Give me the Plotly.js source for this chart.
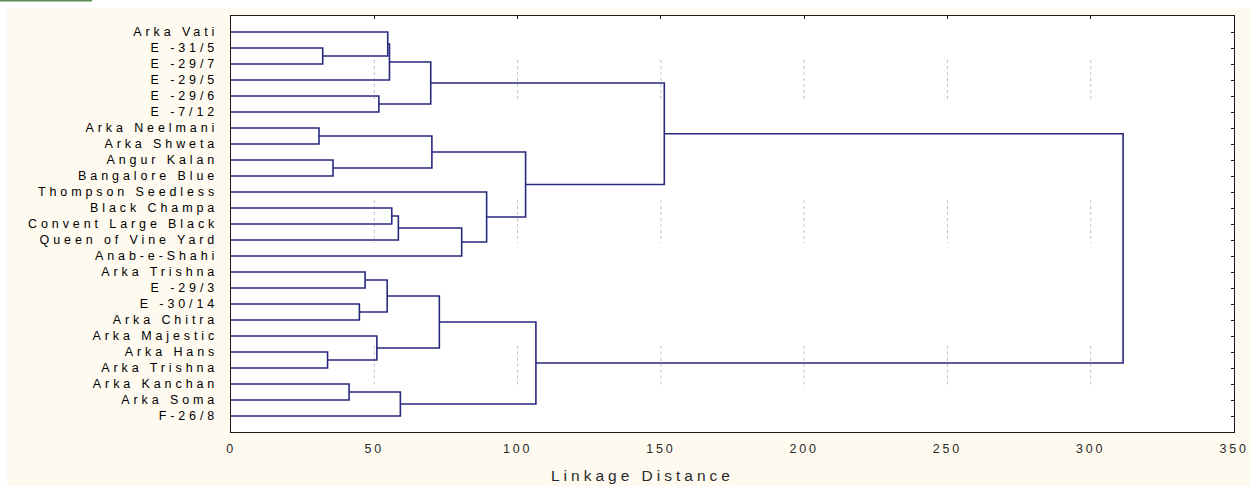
<!DOCTYPE html>
<html>
<head>
<meta charset="utf-8">
<script src="https://cdn.plot.ly/plotly-3.0.1.min.js"></script>
<style>
  html, body { margin: 0; padding: 0; background: #ffffff; }
  #chart { width: 1250px; height: 486px; }
  .ytick text { letter-spacing: 3.9px; }
  .xtick text { letter-spacing: 2.8px; }
  .annotation-text { letter-spacing: 4px; }
</style>
</head>
<body>
<div id="chart"></div>
<script>
// Leaves in display order (top to bottom)
const leaves = [
  "Arka Vati", "E -31/5", "E -29/7", "E -29/5", "E -29/6", "E -7/12",
  "Arka Neelmani", "Arka Shweta", "Angur Kalan", "Bangalore Blue",
  "Thompson Seedless", "Black Champa", "Convent Large Black",
  "Queen of Vine Yard", "Anab-e-Shahi", "Arka Trishna", "E -29/3",
  "E -30/14", "Arka Chitra", "Arka Majestic", "Arka Hans", "Arka Trishna",
  "Arka Kanchan", "Arka Soma", "F-26/8"
];

// Merge steps: [childA, childB] (leaf index 0..24, cluster index 25+)
const mergeA = [1, 0, 26, 4, 27, 6, 8, 30, 11, 33, 34, 10, 32, 29, 15, 17, 39, 20, 19, 41, 22, 45, 44, 38];
const mergeB = [2, 25, 3, 5, 28, 7, 9, 31, 12, 13, 14, 35, 36, 37, 16, 18, 40, 21, 42, 43, 23, 24, 46, 47];
// Linkage distance of each merge step
const mergeDist = [32.0, 54.7, 55.3, 51.6, 69.7, 30.7, 35.6, 70.1, 56.1, 58.4, 80.5, 89.2, 102.8, 151.2,
                   46.8, 44.8, 54.5, 33.7, 50.9, 72.7, 41.2, 59.1, 106.4, 311.3];

const xTicks = [0, 50, 100, 150, 200, 250, 300, 350];
const xTitle = "Linkage Distance";

// ---- build dendrogram path ----
const n = leaves.length;
const pos = [], hgt = [];
for (let i = 0; i < n; i++) { pos.push(i + 1); hgt.push(0); }
const lx = [], ly = [];
for (let k = 0; k < mergeA.length; k++) {
  const a = mergeA[k], b = mergeB[k], d = mergeDist[k];
  lx.push(hgt[a], d, d, hgt[b], null);
  ly.push(pos[a], pos[a], pos[b], pos[b], null);
  pos.push((pos[a] + pos[b]) / 2);
  hgt.push(d);
}

const leafPos = leaves.map((_, i) => i + 1);

// faint dotted grid fragments (as in the original export)
const gridBands = [[2.75, 5.3], [11.5, 14.2], [20.6, 23.1]];
const shapes = [];
xTicks.slice(1, -1).forEach(v => {
  gridBands.forEach(bd => {
    shapes.push({type: 'line', xref: 'x', yref: 'y', x0: v, x1: v, y0: bd[0], y1: bd[1],
                 line: {color: '#c0c0c8', width: 1, dash: 'dot'}, layer: 'below'});
  });
});
// white strips at image edge + green mark top-left
shapes.push({type: 'rect', xref: 'paper', yref: 'paper', x0: -0.24, x1: (7 - 231) / 1003, y0: -0.14, y1: 1.05,
             fillcolor: '#ffffff', line: {width: 0}, layer: 'below'});
shapes.push({type: 'rect', xref: 'paper', yref: 'paper', x0: -0.24, x1: 1.02, y0: (432 - 8) / 416, y1: 1.05,
             fillcolor: '#ffffff', line: {width: 0}, layer: 'below'});
shapes.push({type: 'line', xref: 'paper', yref: 'paper', x0: -0.2303, x1: (92 - 231) / 1003,
             y0: (432 - 0.5) / 416, y1: (432 - 0.5) / 416, line: {color: '#5a8a50', width: 2}});

const traces = [
  {type: 'scatter', mode: 'lines', x: lx, y: ly, line: {color: '#29287f', width: 1.6},
   hoverinfo: 'skip', showlegend: false, connectgaps: false},
  {type: 'scatter', mode: 'markers', x: [null], y: [null], xaxis: 'x2', yaxis: 'y2',
   showlegend: false, hoverinfo: 'skip'}
];

const layout = {
  width: 1250, height: 486,
  margin: {l: 231, r: 16, t: 16, b: 54, pad: 0},
  paper_bgcolor: '#fffaf0',
  plot_bgcolor: '#ffffff',
  showlegend: false,
  font: {family: 'Liberation Sans, Arial, sans-serif', color: '#000'},
  xaxis: {
    range: [0, 350], tickvals: xTicks, ticktext: xTicks.map(String),
    showgrid: false, zeroline: false, showline: true, mirror: true,
    linecolor: '#1a1a1a', linewidth: 1.3, ticks: '',
    tickfont: {size: 12.5, color: '#2a2a2a'}, ticklabelstandoff: 5, fixedrange: true
  },
  xaxis2: {
    overlaying: 'x', side: 'top', range: [0, 350], tickvals: xTicks.slice(1, -1),
    ticks: 'inside', ticklen: 3, tickcolor: '#1a1a1a', showticklabels: false,
    showgrid: false, zeroline: false, showline: false
  },
  yaxis: {
    range: [26, 0], tickvals: leafPos, ticktext: leaves,
    showgrid: false, zeroline: false, showline: true, mirror: true,
    linecolor: '#1a1a1a', linewidth: 1.3, ticks: '',
    tickfont: {size: 12.5, color: '#000'}, ticklabelstandoff: 9, fixedrange: true
  },
  yaxis2: {
    overlaying: 'y', side: 'right', range: [26, 0], tickvals: leafPos,
    ticks: 'inside', ticklen: 3, tickcolor: '#1a1a1a', showticklabels: false,
    showgrid: false, zeroline: false, showline: false
  },
  shapes: shapes,
  annotations: [{
    text: xTitle, xref: 'paper', yref: 'paper',
    x: (642 - 231) / 1003, y: (432 - 485) / 416, xanchor: 'center', yanchor: 'bottom',
    showarrow: false, font: {size: 15.5, color: '#2a2a2a'}, borderpad: 0
  }]
};

Plotly.newPlot('chart', traces, layout, {displayModeBar: false, staticPlot: true});
</script>
</body>
</html>
